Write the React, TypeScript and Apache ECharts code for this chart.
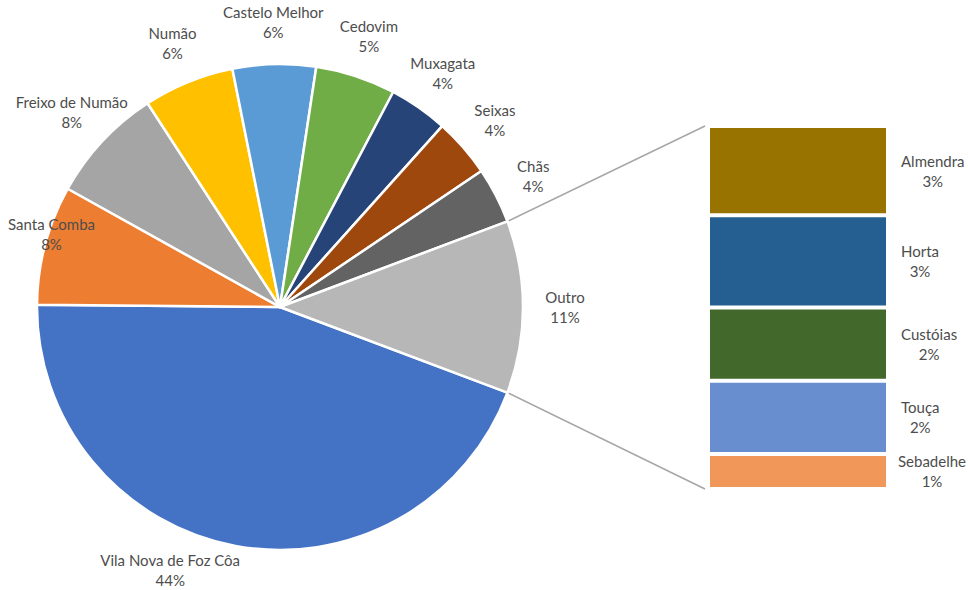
import React, { useEffect, useRef } from "react";
import * as echarts from "echarts";

// Main pie (the last slice "Outro" is the sum of the breakdown below)
const pieNames = [
  "Vila Nova de Foz Côa",
  "Santa Comba",
  "Freixo de Numão",
  "Numão",
  "Castelo Melhor",
  "Cedovim",
  "Muxagata",
  "Seixas",
  "Chãs",
];
const pieValues = [44.2, 7.9, 7.7, 6.0, 5.5, 5.3, 3.9, 3.9, 3.7];
const otherLabel = "Outro";

// Breakdown of "Outro"
const otherNames = ["Almendra", "Horta", "Custóias", "Touça", "Sebadelhe"];
const otherValues = [2.8, 2.9, 2.3, 2.3, 1.1];

const pieColors = [
  "#4472C4",
  "#ED7D31",
  "#A5A5A5",
  "#FFC000",
  "#5B9BD5",
  "#70AD47",
  "#264478",
  "#9E480E",
  "#636363",
  "#B7B7B7",
];
const otherColors = ["#997300", "#255E91", "#43682B", "#698ED0", "#F1975A"];

export default function App() {
  const ref = useRef<HTMLDivElement>(null);

  useEffect(() => {
    document.body.style.margin = "0";
    const chart = echarts.init(ref.current!, null, { renderer: "svg" });

    const W = 968;
    const H = 590;
    const outroValue = otherValues.reduce((a, b) => a + b, 0);
    const values = [...pieValues, outroValue];
    const names = [...pieNames, otherLabel];
    const total = values.reduce((a, b) => a + b, 0);
    const pct = (v: number) => Math.round((v / total) * 100) + "%";

    const cx = 280;
    const cy = 307;
    const R = 243;
    const outroAngle = (outroValue / total) * 360;
    const startAngle = -outroAngle / 2;

    const mids: number[] = [];
    let acc = 0;
    values.forEach((v) => {
      const a = (v / total) * 360;
      mids.push(startAngle - acc - a / 2);
      acc += a;
    });

    const labelDist = R + 42;
    const font = {
      fontFamily: "Lato",
      fontSize: 15,
      color: "#4d4d4d",
      lineHeight: 20,
    };

    const gridLeft = 708;
    const gridTop = 126;
    const gridW = 180;
    const gridBottom = 101;

    const pieLabelLayout = (p: any) => {
      const a = (mids[p.dataIndex] * Math.PI) / 180;
      const w = p.labelRect.width;
      const h = p.labelRect.height;
      let x = cx + labelDist * Math.cos(a);
      let y = cy - labelDist * Math.sin(a);
      if (y + h / 2 > H) {
        y = H - h / 2;
        const dx = Math.sqrt(Math.max(0, labelDist * labelDist - (y - cy) * (y - cy)));
        x = cx + Math.sign(Math.cos(a)) * dx;
      }
      if (y - h / 2 < 0) {
        y = h / 2;
        const dx = Math.sqrt(Math.max(0, labelDist * labelDist - (y - cy) * (y - cy)));
        x = cx + Math.sign(Math.cos(a)) * dx;
      }
      const m = 8;
      x = Math.min(Math.max(x, w / 2 + m), W - w / 2 - m);
      return { x, y, align: "center", verticalAlign: "middle" };
    };

    chart.setOption({
      animation: false,
      grid: { left: gridLeft, top: gridTop, width: gridW, bottom: gridBottom },
      xAxis: { type: "category", data: [""], show: false },
      yAxis: { type: "value", min: 0, max: outroValue, inverse: true, show: false },
      series: [
        {
          type: "pie",
          center: [cx, cy],
          radius: R,
          startAngle,
          clockwise: true,
          avoidLabelOverlap: false,
          data: names.map((n, i) => ({
            name: n,
            value: values[i],
            itemStyle: { color: pieColors[i] },
          })),
          itemStyle: { borderColor: "#ffffff", borderWidth: 2.5 },
          label: {
            show: true,
            position: "outside",
            overflow: "none",
            formatter: (p: any) => `${p.name}\n${pct(p.value)}`,
            ...font,
          },
          labelLine: { show: false },
          emphasis: { scale: false },
          labelLayout: pieLabelLayout,
        },
        ...otherNames.map((n, i) => ({
          type: "bar",
          name: n,
          stack: "outro",
          data: [otherValues[i]],
          barWidth: "100%",
          itemStyle: { color: otherColors[i], borderColor: "#ffffff", borderWidth: 2 },
          label: {
            show: true,
            position: "right",
            overflow: "none",
            formatter: () => `${n}\n${pct(otherValues[i])}`,
            ...font,
          },
          labelLayout: (p: any) => ({
            x: Math.min(
              p.rect.x + p.rect.width + 13 + p.labelRect.width / 2,
              W - p.labelRect.width / 2 - 2
            ),
            y: p.rect.y + p.rect.height / 2,
            align: "center",
            verticalAlign: "middle",
          }),
        })),
      ],
    });

    const a1 = (outroAngle / 2) * (Math.PI / 180);
    const px = cx + R * Math.cos(a1);
    const pyTop = cy - R * Math.sin(a1);
    const pyBot = cy + R * Math.sin(a1);
    const yTop = chart.convertToPixel({ yAxisIndex: 0 }, 0) as number;
    const yBot = chart.convertToPixel({ yAxisIndex: 0 }, outroValue) as number;
    const lineStyle = { stroke: "#A6A6A6", lineWidth: 1.5 };
    chart.setOption({
      graphic: [
        {
          type: "line",
          shape: { x1: px, y1: pyTop, x2: gridLeft - 3, y2: yTop },
          style: lineStyle,
          silent: true,
        },
        {
          type: "line",
          shape: { x1: px, y1: pyBot, x2: gridLeft - 3, y2: yBot },
          style: lineStyle,
          silent: true,
        },
      ],
    });

    return () => chart.dispose();
  }, []);

  return <div ref={ref} style={{ width: 968, height: 590 }} />;
}
